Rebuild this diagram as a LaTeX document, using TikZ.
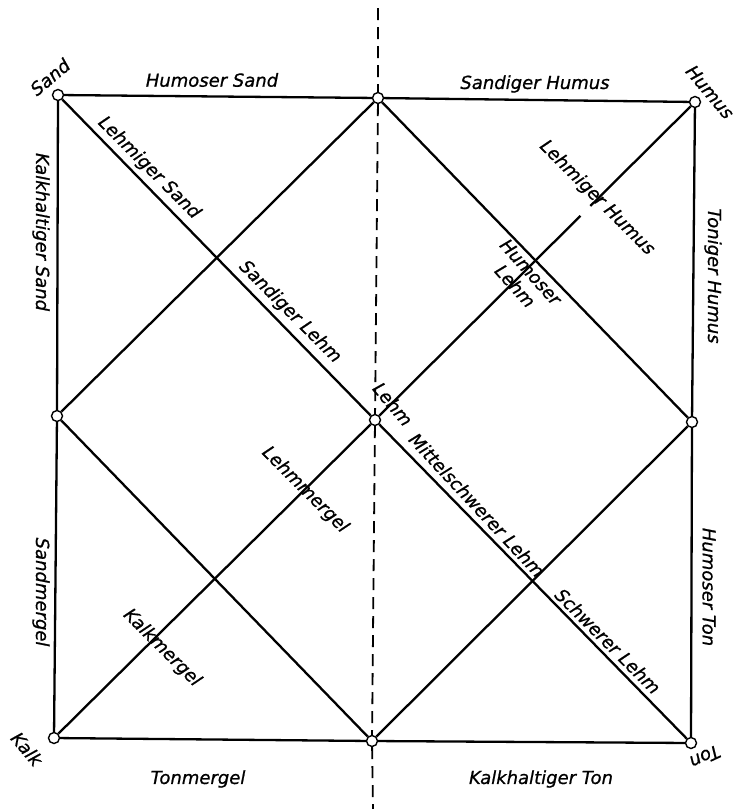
\documentclass[tikz,border=0pt]{standalone}
\usepackage{fontspec}
\setmainfont{DejaVu Sans}[ItalicFeatures={FakeBold=0.8}]
\tikzset{
  punkt/.style={circle,draw,fill=white,line width=1.4pt,inner sep=0pt,minimum size=11pt},
  linie/.style={line width=2.3pt},
  achse/.style={line width=1.8pt,dash pattern=on 12pt off 7pt},
  schrift/.style={font=\fontsize{18}{21}\selectfont\itshape,inner sep=1pt},
}
\begin{document}
\begin{tikzpicture}[x=1pt,y=-1pt]
  \useasboundingbox (0,0) rectangle (737,809);
  \node[punkt] (sand)  at (58,95)   {};
  \node[punkt] (ob)    at (378,98)  {};
  \node[punkt] (humus) at (695,102) {};
  \node[punkt] (li)    at (57,416)  {};
  \node[punkt] (lehm)  at (375,420) {};
  \node[punkt] (re)    at (692,422) {};
  \node[punkt] (kalk)  at (54,738)  {};
  \node[punkt] (un)    at (372,741) {};
  \node[punkt] (ton)   at (691,743) {};
  \coordinate (atop) at (378,8);
  \coordinate (abot) at (373,809);
  \draw[achse] (atop) -- (ob) (ob) -- (lehm) (lehm) -- (un) (un) -- (abot);
  \draw[linie] (sand) -- (ob) -- (humus) -- (re) -- (ton) -- (un) -- (kalk) -- (li) -- (sand);
  \draw[linie] (ob) -- (li) -- (un) -- (re) -- (ob);
  \draw[linie] (sand) -- (lehm) -- (ton);
  \path (humus) -- (lehm) coordinate[pos=0.322] (luecke1) coordinate[pos=0.354] (luecke2);
  \draw[linie] (humus) -- (luecke1) (luecke2) -- (lehm) -- (kalk);
  % Ecken
  \node[schrift,rotate=40]   (t-sand)  at (50,77)  {Sand};
  \node[schrift,rotate=-50]  (t-humus) at (710,92) {Humus};
  \node[schrift,rotate=-50]  (t-kalk)  at (27,749) {Kalk};
  \node[schrift,rotate=-155] (t-ton)   at (705,757) {Ton};
  \node[schrift,rotate=-50]  (t-lehm)  at (393,404) {Lehm};
  % Seiten
  \node[schrift] (t-hs) at (212,80) {Humoser Sand};
  \node[schrift] (t-sh) at (535,84) {Sandiger Humus};
  \node[schrift] (t-tm) at (198,779) {Tonmergel};
  \node[schrift] (t-kt) at (541,779) {Kalkhaltiger Ton};
  \node[schrift,rotate=-90] (t-ks) at (41,232)  {Kalkhaltiger Sand};
  \node[schrift,rotate=-90] (t-sm) at (41,592)  {Sandmergel};
  \node[schrift,rotate=-90] (t-th) at (713,276) {Toniger Humus};
  \node[schrift,rotate=-90] (t-ht) at (709,587) {Humoser Ton};
  % Diagonalen
  \node[schrift,rotate=-45] (t-ls)  at (149,168) {Lehmiger Sand};
  \node[schrift,rotate=-45] (t-sl)  at (290,312) {Sandiger Lehm};
  \node[schrift,rotate=-47] (t-ml)  at (477,505) {Mittelschwerer Lehm};
  \node[schrift,rotate=-45] (t-sw)  at (608,641) {Schwerer Lehm};
  \node[schrift,rotate=-45] (t-lh)  at (597,198) {Lehmiger Humus};
  \node[schrift,rotate=-48,align=center] (t-hl) at (523,279) {Humoser\\Lehm};
  \node[schrift,rotate=-45] (t-lm)  at (305,490) {Lehmmergel};
  \node[schrift,rotate=-45] (t-km)  at (162,648) {Kalkmergel};
\end{tikzpicture}
\end{document}
